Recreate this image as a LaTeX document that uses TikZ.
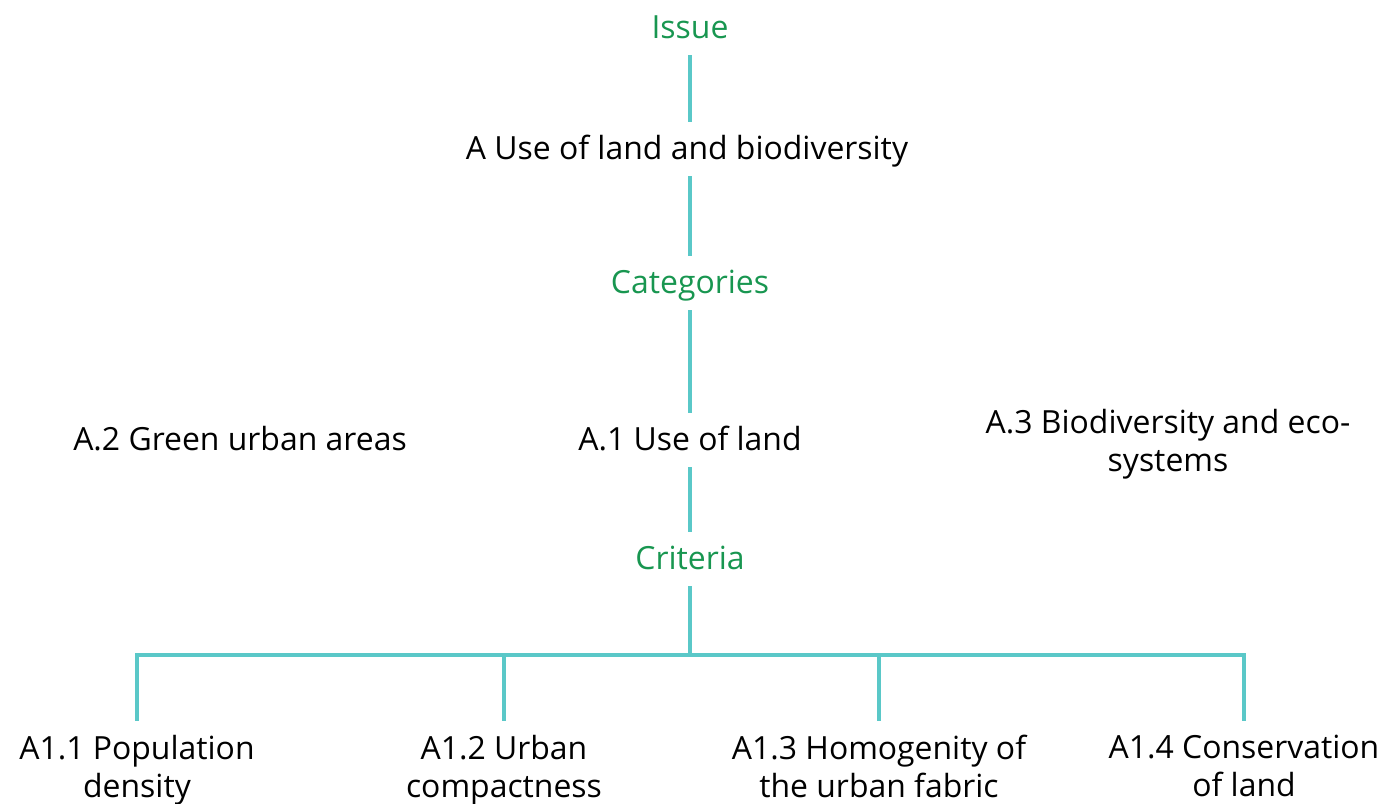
\documentclass[tikz,border=0pt]{standalone}
\usepackage{fontspec}
\setmainfont{Open Sans}
\usepackage{tikz}
\usetikzlibrary{positioning}

\definecolor{headgreen}{RGB}{24,150,80}
\definecolor{linkteal}{RGB}{90,200,200}

\begin{document}
\begin{tikzpicture}[x=0.025cm, y=-0.025cm,
    every node/.style={font=\fontsize{22.7}{27}\selectfont, inner xsep=0pt, inner ysep=0.35cm},
    item/.style={text height=0.575cm, text depth=0.075cm, anchor=base},
    head/.style={item, text=headgreen},
    leaf/.style={align=center, anchor=north},
    link/.style={draw=linkteal, line width=2.4pt}]
    \useasboundingbox (0,0) rectangle (1386,803);

    % Levels down the middle
    \node[head] (issue) at (690,38) {Issue};
    \node[item] (theme) at (687,159) {A Use of land and biodiversity};
    \node[head] (cats) at (690,293) {Categories};
    \node[item] (cat1) at (690,450) {A.1 Use of land};
    \node[item] (cat2) at (240,450) {A.2 Green urban areas};
    \node[leaf] (cat3) at (1168,395) {A.3 Biodiversity and eco-\\systems};
    \node[head] (crit) at (690,569) {Criteria};

    \draw[link] (issue) -- (issue |- theme.north);
    \draw[link] (issue |- theme.south) -- (cats);
    \draw[link] (cats) -- (cat1);
    \draw[link] (cat1) -- (crit);

    % Branch out to the criteria
    \coordinate (bar) at (690,655);
    \draw[link] (crit) -- (bar);
    \foreach \n/\x/\t in {crit1/137/{A1.1 Population\\density}, crit2/504/{A1.2 Urban\\compactness},
                          crit3/879/{A1.3 Homogenity of\\the urban fabric}, crit4/1244/{A1.4 Conservation\\of land}} {
      \node[leaf] (\n) at (\x,721) {\t};
      \draw[link] (bar) -| (\n.north);
    }
\end{tikzpicture}
\end{document}
